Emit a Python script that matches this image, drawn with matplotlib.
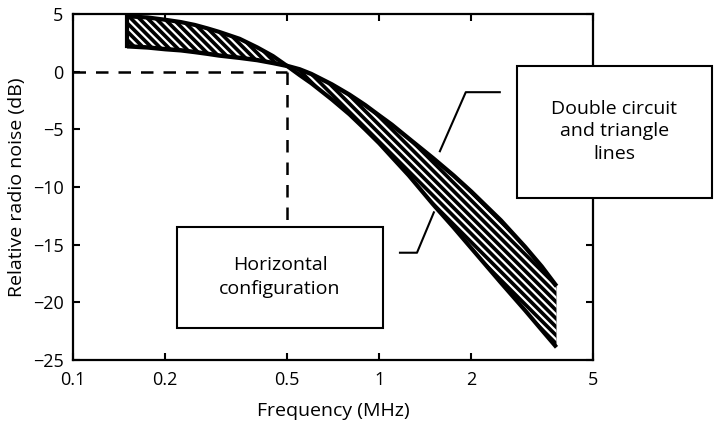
import numpy as np
import matplotlib
matplotlib.use('Agg')
import matplotlib.pyplot as plt
from matplotlib.patches import Rectangle

# values (frequency in MHz, level in dB)
# the two curves cross at about 0.5 MHz
freq = [0.15, 0.175, 0.2, 0.225, 0.25, 0.275, 0.3, 0.35, 0.4, 0.45, 0.5,
        0.55, 0.6, 0.7, 0.8, 0.9, 1.0, 1.1, 1.25, 1.5, 1.75, 2.0, 2.5, 3.0, 3.4, 3.8]
horizontal_db = [4.8, 4.7, 4.5, 4.3, 4.05, 3.75, 3.45, 2.85, 2.1, 1.35, 0.5,
                 -0.3, -1.0, -2.4, -3.7, -5.0, -6.2, -7.4, -9.0, -11.5, -13.5, -15.3, -18.3, -20.7, -22.4, -23.9]
double_db = [2.2, 2.1, 1.95, 1.85, 1.7, 1.55, 1.4, 1.2, 1.0, 0.75, 0.5,
             0.2, -0.2, -1.1, -2.0, -2.9, -3.8, -4.6, -5.8, -7.5, -9.0, -10.4, -12.9, -15.2, -16.9, -18.6]

xticks = [0.1, 0.2, 0.5, 1, 2, 5]
xticklabels = ['0.1', '0.2', '0.5', '1', '2', '5']
yticks = [5, 0, -5, -10, -15, -20, -25]

ref_freq = 0.5

plt.rcParams['font.family'] = ['Open Sans', 'DejaVu Sans']
plt.rcParams['hatch.color'] = 'white'
plt.rcParams['hatch.linewidth'] = 1.6

fig = plt.figure(figsize=(7.17, 4.24), dpi=100)
ax = fig.add_axes([0.102, 0.151, 0.725, 0.816])

ax.set_xscale('log')
ax.set_xlim(0.1, 5)
ax.set_ylim(-25, 5)

# hatched band between the two curves
ax.fill_between(freq, horizontal_db, double_db, interpolate=True, facecolor='black',
                hatch='\\\\\\\\', edgecolor='white', linewidth=0, zorder=2)
ax.plot(freq, horizontal_db, color='black', lw=3.0, solid_capstyle='butt', zorder=3)
ax.plot(freq, double_db, color='black', lw=3.2, solid_capstyle='butt', zorder=3)
ax.plot([freq[0], freq[0]], [double_db[0], horizontal_db[0]], color='black', lw=3.0, zorder=3)

# dashed reference lines at 0.5 MHz / 0 dB
ax.plot([0.1, ref_freq], [0, 0], color='black', lw=1.8, dashes=(5, 4), zorder=1)
ax.plot([ref_freq, ref_freq], [0, -13.5], color='black', lw=1.8, dashes=(5, 4), zorder=1)

ax.set_xticks(xticks)
ax.set_xticklabels(xticklabels)
ax.xaxis.set_minor_locator(matplotlib.ticker.NullLocator())
ax.set_yticks(yticks)
ax.tick_params(direction='in', length=5, width=1.5, top=True, right=True, labelsize=13)
ax.tick_params(axis='x', pad=8)
ax.tick_params(axis='y', pad=7)
for s in ax.spines.values():
    s.set_linewidth(1.6)

ax.set_xlabel('Frequency (MHz)', fontsize=14, labelpad=9)
ax.set_ylabel('Relative radio noise (dB)', fontsize=14, labelpad=5)

# "Horizontal configuration" box
ax.add_patch(Rectangle((0.2, 0.0925), 0.396, 0.2915, transform=ax.transAxes,
                       facecolor='white', edgecolor='black', lw=1.5, zorder=4))
ax.text(0.398, 0.24, 'Horizontal\nconfiguration', transform=ax.transAxes,
        ha='center', va='center', fontsize=14, linespacing=1.45, zorder=5)
ax.plot([1.17, 1.33, 1.51], [-15.7, -15.7, -12.2], color='black', lw=1.5, zorder=4)

# "Double circuit and triangle lines" box, sticking out past the right spine
fig.patches.append(Rectangle((0.721, 0.533), 0.272, 0.311, transform=fig.transFigure,
                             facecolor='white', edgecolor='black', lw=1.5, zorder=5))
fig.text(0.857, 0.69, 'Double circuit\nand triangle\nlines', ha='center', va='center',
         fontsize=14, linespacing=1.3, zorder=6)
ax.plot([2.48, 1.92, 1.58], [-1.78, -1.78, -6.9], color='black', lw=1.5, zorder=4)

fig.savefig('out.png', dpi=100)
